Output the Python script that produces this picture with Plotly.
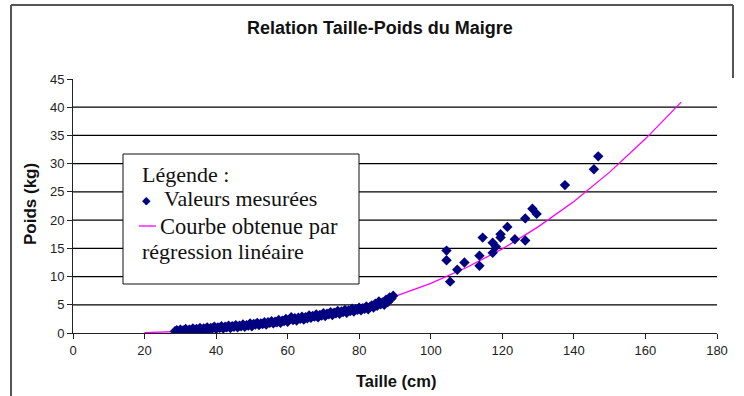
import plotly.graph_objects as go

# Measured height (cm) and weight (kg)
taille = [28.5, 29, 29.5, 30, 30.5, 31, 31.5, 32, 32.5, 33, 33.5, 34, 34.5, 35, 35.5,
          36, 36.5, 37, 37.5, 38, 38.5, 39, 39.5, 40, 40.5, 41, 41.5, 42, 42.5, 43,
          43.5, 44, 44.5, 45, 45.5, 46, 46.5, 47, 47.5, 48, 48.5, 49, 49.5, 50, 50.5,
          51, 51.5, 52, 52.5, 53, 53.5, 54, 54.5, 55, 55.5, 56, 56.5, 57, 57.5, 58,
          58.5, 59, 59.5, 60, 60.5, 61, 61.5, 62, 62.5, 63, 63.5, 64, 64.5, 65, 65.5,
          66, 66.5, 67, 67.5, 68, 68.5, 69, 69.5, 70, 70.5, 71, 71.5, 72, 72.5, 73,
          73.5, 74, 74.5, 75, 75.5, 76, 76.5, 77, 77.5, 78, 78.5, 79, 79.5, 80, 80.5,
          81, 81.5, 82, 82.5, 83, 83.5, 84, 84.5, 85, 85.5, 86, 86.5, 87, 87.5, 88,
          88.5, 89, 89.5,
          104.4, 104.4, 105.4, 107.4, 109.4, 113.6, 113.6, 114.5, 117.3, 117.3, 118.2,
          119.5, 119.5, 121.4, 123.5, 126.4, 126.4, 128.4, 129.6, 137.5, 145.6, 146.8]
poids = [0.3, 0.5, 0.2, 0.6, 0.4, 0.5, 0.7, 0.3, 0.6, 0.5, 0.8, 0.4, 0.7, 0.6, 0.9,
         0.5, 0.8, 0.7, 1.0, 0.6, 0.9, 0.8, 1.1, 0.7, 1.0, 0.9, 1.2, 0.8, 1.1, 1.0,
         1.3, 0.9, 1.2, 1.1, 1.4, 1.0, 1.3, 1.2, 1.5, 1.1, 1.4, 1.3, 1.7, 1.2, 1.6,
         1.5, 1.8, 1.4, 1.7, 1.6, 1.9, 1.5, 1.9, 1.8, 2.1, 1.7, 2.0, 1.9, 2.3, 1.8,
         2.2, 2.1, 2.5, 2.0, 2.4, 2.8, 2.3, 2.6, 2.2, 2.7, 2.5, 2.9, 2.4, 2.8, 2.6,
         3.1, 2.7, 3.0, 2.9, 3.3, 2.8, 3.2, 3.1, 3.5, 3.0, 3.4, 3.3, 3.7, 3.2, 3.6,
         3.5, 3.9, 3.4, 3.8, 3.7, 4.1, 3.6, 4.0, 3.9, 4.3, 3.8, 4.2, 4.1, 4.5, 4.0,
         4.4, 4.3, 4.7, 4.2, 4.6, 4.9, 4.5, 5.2, 4.8, 5.6, 5.1, 5.4, 5.0, 5.9, 5.5,
         6.3, 6.1, 6.6,
         14.6, 12.9, 9.1, 11.2, 12.5, 13.7, 11.9, 16.9, 16.0, 14.2, 15.3,
         17.5, 16.9, 18.8, 16.6, 20.3, 16.4, 22.0, 21.1, 26.2, 29.0, 31.3]

# Regression curve read along its length
courbe_x = [20, 30, 40, 50, 60, 70, 80, 90, 100, 110, 120, 130, 140, 150, 160, 170]
courbe_y = [0.08, 0.27, 0.62, 1.18, 2.0, 3.12, 4.6, 6.48, 8.79, 11.6, 14.9, 18.8,
            23.3, 28.5, 34.4, 40.9]

x_ticks = list(range(0, 181, 20))
y_ticks = list(range(0, 46, 5))

NAVY = "#000080"
MAGENTA = "#FF00FF"

fig = go.Figure()
fig.add_trace(go.Scatter(
    x=courbe_x, y=courbe_y, mode="lines",
    line=dict(color=MAGENTA, width=1.3), hoverinfo="skip"))
fig.add_trace(go.Scatter(
    x=taille, y=poids, mode="markers",
    marker=dict(symbol="diamond", size=8, color=NAVY, line=dict(width=0))))

# plot area in pixels: x 73..717, y 79..333
L, R, T, B = 73, 717, 79, 333
W, H = R - L, B - T


def px(x):
    return (x - L) / W


def py(y):
    return (B - y) / H


shapes = []
for v in y_ticks[1:-1]:
    shapes.append(dict(type="line", xref="paper", yref="y", x0=0, x1=1, y0=v, y1=v,
                       line=dict(color="#000000", width=1.3), layer="below"))

# legend box
shapes.append(dict(type="rect", xref="paper", yref="paper",
                   x0=px(123), x1=px(359), y0=py(284), y1=py(154),
                   fillcolor="white", line=dict(color="#111111", width=1), layer="above"))
# legend line sample
shapes.append(dict(type="line", xref="paper", yref="paper",
                   x0=px(139), x1=px(156), y0=py(226), y1=py(226),
                   line=dict(color=MAGENTA, width=1.3), layer="above"))
# outer frame (left and top edges, short right edge)
frame = dict(color="#555555", width=2)
shapes.append(dict(type="line", xref="paper", yref="paper",
                   x0=px(11), x1=px(11), y0=py(5), y1=py(400), line=frame))
shapes.append(dict(type="line", xref="paper", yref="paper",
                   x0=px(11), x1=px(733), y0=py(5), y1=py(5), line=frame))
shapes.append(dict(type="line", xref="paper", yref="paper",
                   x0=px(733), x1=px(733), y0=py(5), y1=py(78), line=frame))

serif = "Liberation Serif, Times New Roman, serif"
sans = "Liberation Sans, Arial, sans-serif"
annotations = [
    dict(text="<b>Relation Taille-Poids du Maigre</b>", x=px(380), y=py(28),
         font=dict(family=sans, size=18, color="#111111")),
    dict(text="<b>Taille (cm)</b>", x=px(396), y=py(381),
         font=dict(family=sans, size=16.5, color="#111111")),
    dict(text="<b>Poids (kg)</b>", x=px(30), y=py(204), textangle=-90,
         font=dict(family=sans, size=17, color="#111111")),
    dict(text="Légende :", x=px(140), y=py(174), xanchor="left",
         font=dict(family=serif, size=22, color="#111111")),
    dict(text="◆", x=px(146), y=py(200),
         font=dict(family="DejaVu Sans", size=11, color=NAVY)),
    dict(text="Valeurs mesurées", x=px(162), y=py(198), xanchor="left",
         font=dict(family=serif, size=22, color="#111111")),
    dict(text="Courbe obtenue par", x=px(158), y=py(226), xanchor="left",
         font=dict(family=serif, size=22.5, color="#111111")),
    dict(text="régression linéaire", x=px(140), y=py(251), xanchor="left",
         font=dict(family=serif, size=22, color="#111111")),
]
for a in annotations:
    a.update(xref="paper", yref="paper", showarrow=False)
    a.setdefault("xanchor", "center")
    a.setdefault("yanchor", "middle")

axis_common = dict(showgrid=False, zeroline=False, showline=True, linecolor="#222222",
                   linewidth=1, ticks="outside", ticklen=5, tickcolor="#222222",
                   tickfont=dict(family=sans, size=13, color="#222222"))

fig.update_layout(
    width=744, height=396,
    margin=dict(l=L, r=744 - R, t=T, b=396 - B),
    paper_bgcolor="white", plot_bgcolor="white",
    showlegend=False,
    xaxis=dict(range=[0, 180], tickvals=x_ticks, **axis_common),
    yaxis=dict(range=[0, 45], tickvals=y_ticks, **axis_common),
    shapes=shapes, annotations=annotations,
)

fig.write_html("out.html")
